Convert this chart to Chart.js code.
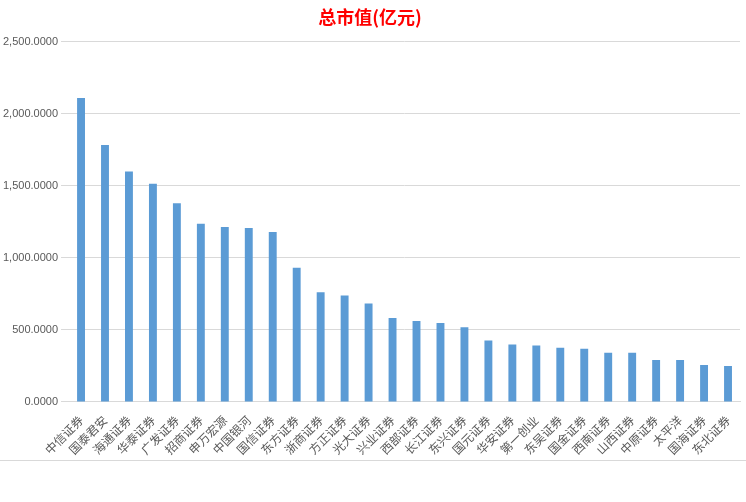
<!DOCTYPE html>
<html><head><meta charset="utf-8">
<script src="https://cdn.jsdelivr.net/npm/chart.js@4"></script>
<style>html,body{margin:0;padding:0;background:#fff}#w{position:relative;width:746px;height:460px;border-bottom:1px solid #d9d9d9}</style>
</head><body><div id="w"><canvas id="c"></canvas></div>
<script>
const categories=["中信证券","国泰君安","海通证券","华泰证券","广发证券","招商证券","申万宏源","中国银河","国信证券","东方证券","浙商证券","方正证券","光大证券","兴业证券","西部证券","长江证券","东兴证券","国元证券","华安证券","第一创业","东吴证券","国金证券","西南证券","山西证券","中原证券","太平洋","国海证券","东北证券"];
const marketCap=[2109,1783,1598,1513,1378,1236,1214,1207,1179,930,760,739,682,582,561,547,518,426,398,391,376,369,341,341,291,291,256,249];
const yTicks=[0,500,1000,1500,2000,2500];
new Chart(document.getElementById('c'),{type:'bar',
data:{labels:categories,datasets:[{data:marketCap,backgroundColor:'#5b9bd5',categoryPercentage:1,barPercentage:0.33}]},
options:{responsive:true,maintainAspectRatio:false,animation:false,
layout:{padding:{left:0,right:6,top:0,bottom:0}},
plugins:{legend:{display:false},tooltip:{enabled:false},
title:{display:true,text:'总市值(亿元)',color:'#ff0000',font:{size:18,weight:'bold',family:'Noto Sans CJK SC'},padding:{top:6,bottom:14}}},
scales:{
x:{grid:{display:false},border:{color:'#d9d9d9'},ticks:{color:'#595959',font:{size:12,family:'Noto Sans CJK SC'},maxRotation:45,minRotation:45,autoSkip:false}},
y:{min:0,max:2500,afterBuildTicks:a=>{a.ticks=yTicks.map(v=>({value:v}))},grid:{color:'#d9d9d9'},border:{display:false},
ticks:{color:'#595959',font:{size:11,family:'Liberation Sans'},callback:v=>v.toLocaleString('en-US',{minimumFractionDigits:4,maximumFractionDigits:4})}}}}});
</script></body></html>
